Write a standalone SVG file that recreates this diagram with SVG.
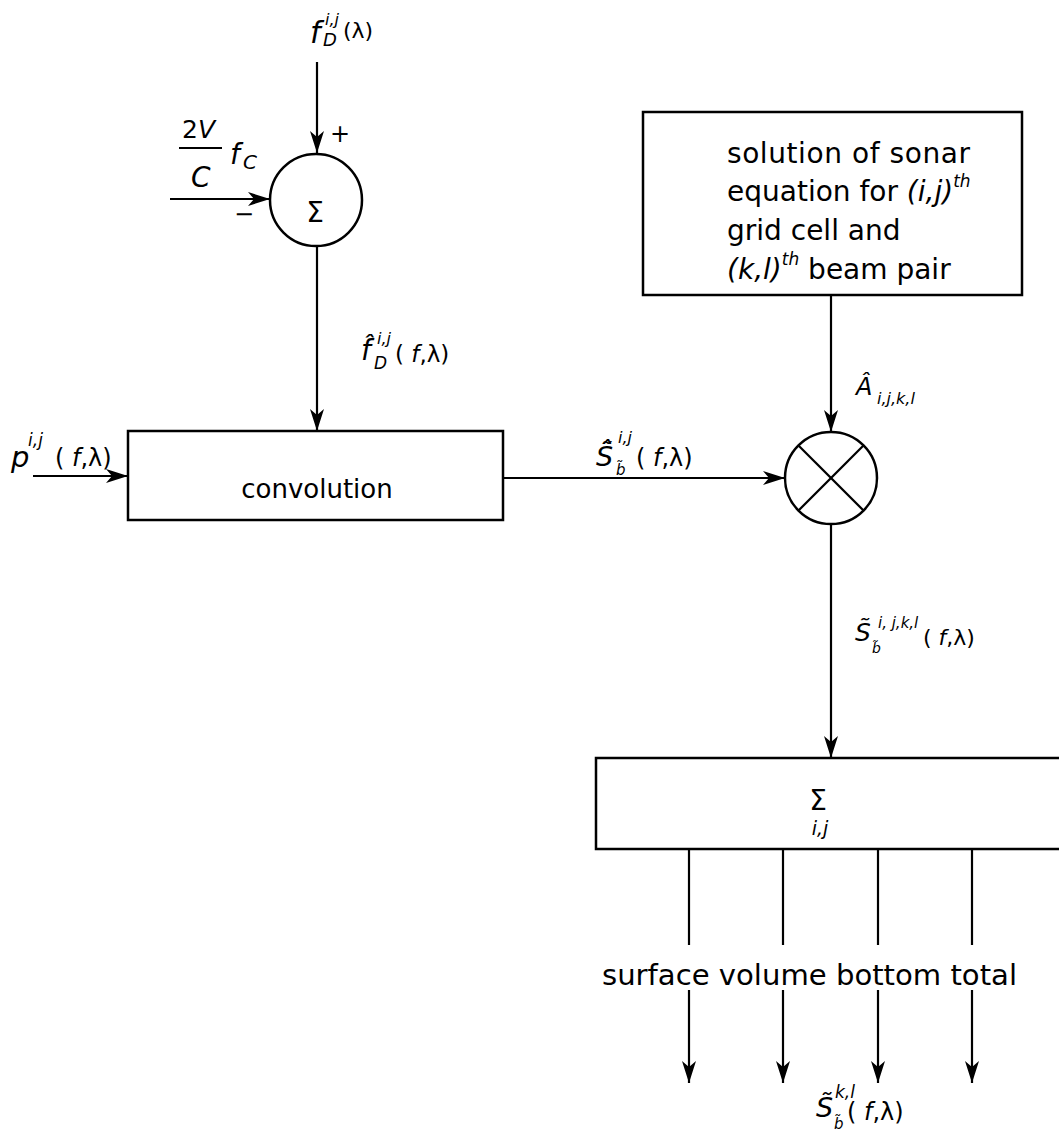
<svg xmlns="http://www.w3.org/2000/svg" width="1059" height="1139" viewBox="0 0 1059 1139">
<style>
text{font-family:"DejaVu Sans","Liberation Sans",sans-serif;fill:#000}
.i{font-style:italic}
.box{fill:none;stroke:#000;stroke-width:2.5}
.ln{fill:none;stroke:#000;stroke-width:2.2}
.c{text-anchor:middle}
</style>
<defs>
<marker id="ah" markerUnits="userSpaceOnUse" markerWidth="22" markerHeight="14" refX="22" refY="7" orient="auto">
<path d="M0,0 L22,7 L0,14 L6,7 z" fill="#000"/>
</marker>
</defs>
<rect width="1059" height="1139" fill="#fff"/>

<g id="sum1">
<circle class="box" cx="316" cy="200" r="46"/>
<text x="315" y="222" font-size="28" class="c">Σ</text>
</g>

<g id="convolution">
<rect class="box" x="128" y="431" width="375" height="89"/>
<text x="317" y="498" font-size="26" class="c">convolution</text>
</g>

<g id="sonar">
<rect class="box" x="643" y="112" width="379" height="183"/>
<text x="727" y="163" font-size="28" textLength="243" lengthAdjust="spacing">solution of sonar</text>
<text x="727" y="201" font-size="28">equation for <tspan class="i">(i,j)</tspan><tspan class="i" font-size="17" dy="-14">th</tspan></text>
<text x="727" y="240" font-size="28">grid cell and</text>
<text x="727" y="279" font-size="28"><tspan class="i">(k,l)</tspan><tspan class="i" font-size="17" dy="-14">th</tspan><tspan dy="14"> beam pair</tspan></text>
</g>

<g id="multiplier">
<circle class="box" cx="831" cy="478" r="46"/>
<line class="ln" x1="798" y1="445" x2="864" y2="511"/>
<line class="ln" x1="864" y1="445" x2="798" y2="511"/>
</g>

<g id="sum2">
<rect class="box" x="596" y="758" width="475" height="91"/>
<text x="818" y="810" font-size="28" class="c">Σ</text>
<text x="820" y="835" font-size="19" class="c i">i,j</text>
</g>

<g id="connectors">
<line class="ln" x1="317" y1="62" x2="317" y2="153" marker-end="url(#ah)"/>
<line class="ln" x1="170" y1="199" x2="270" y2="199" marker-end="url(#ah)"/>
<line class="ln" x1="317" y1="246" x2="317" y2="431" marker-end="url(#ah)"/>
<line class="ln" x1="33" y1="476" x2="128" y2="476" marker-end="url(#ah)"/>
<line class="ln" x1="503" y1="478" x2="785" y2="478" marker-end="url(#ah)"/>
<line class="ln" x1="831" y1="295" x2="831" y2="432" marker-end="url(#ah)"/>
<line class="ln" x1="831" y1="524" x2="831" y2="758" marker-end="url(#ah)"/>
<line class="ln" x1="689" y1="849" x2="689" y2="945"/>
<line class="ln" x1="783" y1="849" x2="783" y2="945"/>
<line class="ln" x1="878" y1="849" x2="878" y2="945"/>
<line class="ln" x1="972" y1="849" x2="972" y2="945"/>
<line class="ln" x1="689" y1="990" x2="689" y2="1083" marker-end="url(#ah)"/>
<line class="ln" x1="783" y1="990" x2="783" y2="1083" marker-end="url(#ah)"/>
<line class="ln" x1="878" y1="990" x2="878" y2="1083" marker-end="url(#ah)"/>
<line class="ln" x1="972" y1="990" x2="972" y2="1083" marker-end="url(#ah)"/>
</g>

<g id="labels">
<g id="label-fD">
<text x="310" y="43" font-size="30" class="i">f</text>
<text x="325" y="25" font-size="16" class="i">i,j</text>
<text x="323" y="46" font-size="18" class="i">D</text>
<text x="343" y="38" font-size="22">(λ)</text>
</g>
<g id="label-2V">
<text x="182" y="138" font-size="25">2<tspan class="i">V</tspan></text>
<line class="ln" x1="179" y1="148" x2="222" y2="148"/>
<text x="191" y="187" font-size="28" class="i">C</text>
<text x="230" y="164" font-size="28" class="i">f</text>
<text x="243" y="169" font-size="20" class="i">C</text>
<text x="340" y="142" font-size="24" class="c">+</text>
<text x="244" y="222" font-size="24" class="c">−</text>
</g>
<g id="label-fhat">
<text x="361" y="360" font-size="28" class="i">f̂</text>
<text x="377" y="344" font-size="16" class="i">i,j</text>
<text x="374" y="369" font-size="17" class="i">D</text>
<text x="395" y="362" font-size="23">( <tspan class="i">f</tspan>,λ)</text>
</g>
<g id="label-p">
<text x="11" y="467" font-size="29" class="i">p</text>
<text x="28" y="446" font-size="17" class="i">i,j</text>
<text x="55" y="466" font-size="24">( <tspan class="i">f</tspan>,λ)</text>
</g>
<g id="label-S1">
<text x="596" y="466" font-size="27" class="i">S̃̂</text>
<text x="616" y="475" font-size="15" class="i">b̃</text>
<text x="618" y="443" font-size="16" class="i">i,j</text>
<text x="636" y="466" font-size="24">( <tspan class="i">f</tspan>,λ)</text>
</g>
<g id="label-A">
<text x="856" y="395" font-size="24" class="i">Â</text>
<text x="877" y="404" font-size="16" class="i">i,j,k,l</text>
</g>
<g id="label-S2">
<text x="855" y="641" font-size="25" class="i">S̃</text>
<text x="872" y="653" font-size="14" class="i">b̃</text>
<text x="878" y="628" font-size="15" class="i">i, j,k,l</text>
<text x="923" y="645" font-size="22">( <tspan class="i">f</tspan>,λ)</text>
</g>
<text x="602" y="985" font-size="29" textLength="415" lengthAdjust="spacingAndGlyphs">surface volume bottom total</text>
<g id="label-S3">
<text x="816" y="1117" font-size="27" class="i">S̃</text>
<text x="834" y="1129" font-size="15" class="i">b̃</text>
<text x="835" y="1098" font-size="17" class="i">k,l</text>
<text x="847" y="1120" font-size="24">( <tspan class="i">f</tspan>,λ)</text>
</g>
</g>
</svg>
